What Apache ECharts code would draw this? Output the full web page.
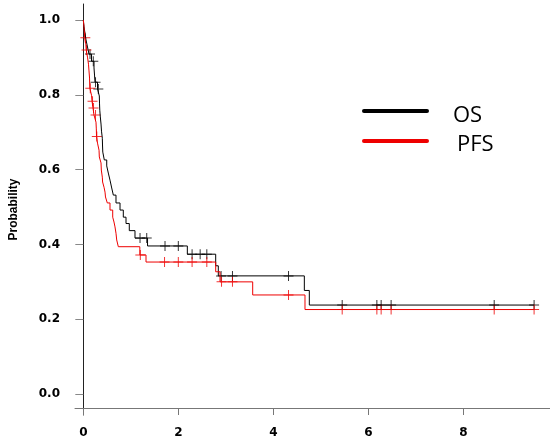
<!DOCTYPE html>
<html>
<head>
<meta charset="utf-8">
<script src="https://cdn.jsdelivr.net/npm/echarts@6/dist/echarts.min.js"></script>
<style>
  html, body { margin: 0; padding: 0; background: #fff; }
  #chart { width: 550px; height: 444px; }
</style>
</head>
<body>
<div id="chart"></div>
<script>
// Kaplan-Meier estimates: event times (years) and survival after each drop
const osTime = [0, 0.015, 0.036, 0.057, 0.088, 0.12, 0.173, 0.225, 0.236, 0.246, 0.299,
  0.337, 0.341, 0.347, 0.358, 0.373, 0.383, 0.40, 0.404, 0.41, 0.442,
  0.493, 0.526, 0.562, 0.598, 0.632, 0.688, 0.773, 0.842, 0.899, 0.968,
  1.088, 1.352, 2.19, 2.787, 2.842, 4.653, 4.758, 9.49];
const osSurv = [1.0, 0.982, 0.964, 0.947, 0.928, 0.909, 0.890, 0.872, 0.853, 0.834, 0.816,
  0.797, 0.778, 0.759, 0.741, 0.722, 0.703, 0.684, 0.666, 0.647, 0.626,
  0.610, 0.591, 0.572, 0.551, 0.532, 0.511, 0.492, 0.473, 0.456, 0.437,
  0.417, 0.396, 0.374, 0.343, 0.316, 0.277, 0.238, 0.238];
const osCensor = [0.141, 0.21, 0.257, 0.316, 1.194, 1.335, 1.72, 2.0, 2.29, 2.46, 2.6,
  2.9, 3.14, 4.32, 5.45, 6.18, 6.27, 6.48, 8.65, 9.49];

const pfsTime = [0, 0.015, 0.029, 0.053, 0.061, 0.088, 0.109, 0.12, 0.131, 0.137,
  0.173, 0.183, 0.204, 0.225, 0.267, 0.274, 0.278, 0.299, 0.331, 0.337,
  0.373, 0.379, 0.40, 0.406, 0.436, 0.457, 0.467, 0.505, 0.562, 0.619,
  0.646, 0.667, 0.688, 0.703, 0.737, 1.19, 1.32, 2.787, 2.878, 3.566,
  4.667, 9.49];
const pfsSurv = [1.0, 0.981, 0.953, 0.936, 0.920, 0.901, 0.882, 0.864, 0.845, 0.818,
  0.799, 0.783, 0.765, 0.746, 0.727, 0.709, 0.689, 0.671, 0.652, 0.634,
  0.618, 0.599, 0.580, 0.567, 0.553, 0.540, 0.527, 0.511, 0.492, 0.473,
  0.460, 0.447, 0.430, 0.412, 0.394, 0.372, 0.353, 0.327, 0.300, 0.265,
  0.226, 0.226];
const pfsCensor = [0.042, 0.067, 0.147, 0.194, 0.215, 0.257, 0.284, 1.20, 1.71, 2.0,
  2.29, 2.6, 2.91, 3.14, 4.32, 5.45, 6.18, 6.27, 6.48, 8.65, 9.49];

const xTicks = [0, 2, 4, 6, 8];
const yTicks = [0, 0.2, 0.4, 0.6, 0.8, 1.0];
const seriesNames = ['OS', 'PFS'];

// survival level of a step curve at time t
function levelAt(times, surv, t) {
  let s = surv[0];
  for (let i = 0; i < times.length; i++) {
    if (times[i] <= t) s = surv[i]; else break;
  }
  return s;
}
const pairs = (a, b) => a.map((v, i) => [v, b[i]]);
const censorPoints = (c, times, surv) => c.map(t => [t, levelAt(times, surv, t)]);

const plusSymbol = 'path://M0,4.5H10V5.5H0Z M4.5,0H5.5V10H4.5Z';
const black = '#000000';
const red = '#ee0000';

const chart = echarts.init(document.getElementById('chart'), null, { renderer: 'canvas' });
chart.setOption({
  animation: false,
  backgroundColor: '#ffffff',
  grid: { left: 75, right: 0, top: 4, bottom: 29, containLabel: false },
  xAxis: {
    type: 'value',
    min: -0.175,
    max: 9.825,
    offset: -7,
    splitLine: { show: false },
    axisLine: { onZero: false, lineStyle: { color: '#777', width: 1 } },
    axisTick: { customValues: xTicks, length: 7, lineStyle: { color: '#777' } },
    axisLabel: {
      customValues: xTicks, margin: 19, color: '#000',
      fontFamily: 'DejaVu Sans', fontWeight: 'bold', fontSize: 12
    }
  },
  yAxis: {
    type: 'value',
    min: -0.056,
    max: 1.043,
    splitLine: { show: false },
    axisLine: { onZero: true, lineStyle: { color: '#222', width: 1 } },
    axisTick: { customValues: yTicks, length: 8, lineStyle: { color: '#888' } },
    axisLabel: {
      customValues: yTicks, margin: 15, color: '#000',
      fontFamily: 'DejaVu Sans', fontWeight: 'bold', fontSize: 12,
      formatter: v => v.toFixed(1)
    },
    name: 'Probability',
    nameLocation: 'middle',
    nameGap: 55,
    nameTextStyle: { fontFamily: 'Liberation Sans', fontWeight: 'bold', fontSize: 12, color: '#000' }
  },
  series: [
    {
      name: seriesNames[0], type: 'line', step: 'end', showSymbol: false, symbol: 'none',
      data: pairs(osTime, osSurv), lineStyle: { color: black, width: 1 }, silent: true
    },
    {
      name: seriesNames[0] + ' censored', type: 'scatter', symbol: plusSymbol, symbolSize: 10,
      data: censorPoints(osCensor, osTime, osSurv), itemStyle: { color: black }, silent: true
    },
    {
      name: seriesNames[1], type: 'line', step: 'end', showSymbol: false, symbol: 'none',
      data: pairs(pfsTime, pfsSurv), lineStyle: { color: red, width: 1 }, silent: true
    },
    {
      name: seriesNames[1] + ' censored', type: 'scatter', symbol: plusSymbol, symbolSize: 10,
      data: censorPoints(pfsCensor, pfsTime, pfsSurv), itemStyle: { color: red }, silent: true
    }
  ],
  graphic: [
    { type: 'line', shape: { x1: 364, y1: 111, x2: 427, y2: 111 },
      style: { stroke: black, lineWidth: 4, lineCap: 'round' } },
    { type: 'line', shape: { x1: 364, y1: 141, x2: 427, y2: 141 },
      style: { stroke: red, lineWidth: 4, lineCap: 'round' } },
    { type: 'text', x: 453, y: 116,
      style: { text: seriesNames[0], fill: '#000', font: '22px "Open Sans"', verticalAlign: 'middle' } },
    { type: 'text', x: 457, y: 145,
      style: { text: seriesNames[1], fill: '#000', font: '22px "Open Sans"', verticalAlign: 'middle' } }
  ]
});
</script>
</body>
</html>
